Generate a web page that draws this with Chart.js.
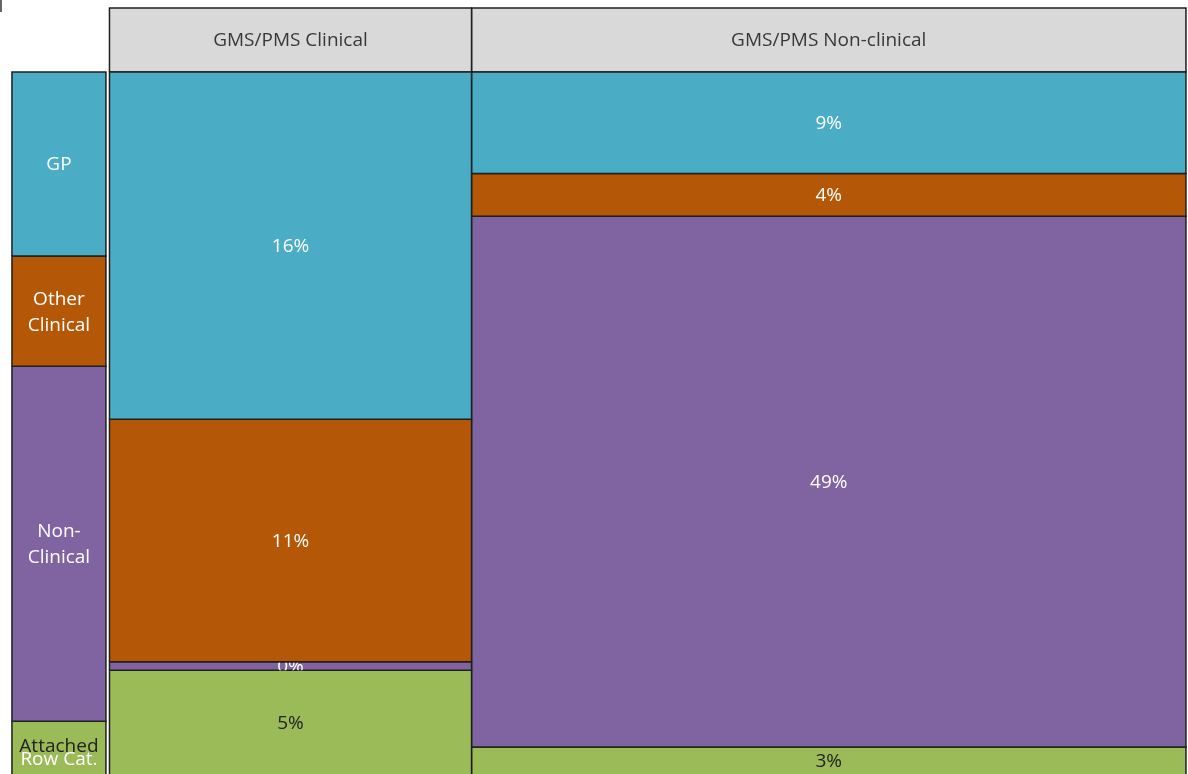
<!DOCTYPE html>
<html>
<head>
<meta charset="utf-8">
<title>Staff mosaic</title>
<script src="https://cdn.jsdelivr.net/npm/chart.js@4.4.1/dist/chart.umd.min.js"></script>
<style>
  html, body { margin: 0; padding: 0; background: #fff; overflow: hidden; }
  #wrap { position: relative; width: 1188px; height: 774px; }
  #mark { position: absolute; left: 0; top: 0; width: 2px; height: 12px; background: #666; }
</style>
</head>
<body>
<div id="wrap">
  <canvas id="mosaic" width="1188" height="774"></canvas>
  <div id="mark"></div>
</div>
<script>
// Column / row categories of the mosaic
const columns = ["GMS/PMS Clinical", "GMS/PMS Non-clinical"];
const rows = ["GP", "Other Clinical", "Non-Clinical", "Attached Row Cat."];
const rowLabelLines = [["GP"], ["Other", "Clinical"], ["Non-", "Clinical"], ["Attached", "Row Cat."]];

// Share of all staff (%) in each cell, one array per column, in row order
const clinicalShares = [16.4, 11.45, 0.4, 5.35];
const nonClinicalShares = [9.45, 4.0, 49.45, 3.4];

// Styles
const rowColors = ["#4BACC6", "#B45706", "#8064A2", "#9BBB59"];
const cellTextColors = ["#ffffff", "#ffffff", "#ffffff", "#222222"];
const legendTextColors = [["#fff"], ["#fff", "#fff"], ["#fff", "#fff"], ["#222", "#fff"]];
const legendLineGap = [26, 26, 26, 13];
const edgeColor = "#1f1f1f";
const headerFill = "#D9D9D9";
const FONT = '19px "Open Sans", "Noto Sans", sans-serif';

// layout in axis units (x: % of total width, y: % of column height)
const X_MIN = -10.17, X_MAX = 100.19;
const Y_MIN = 1.34, Y_MAX = 110.12;
const HEADER_TOP = 109.0;
const LEGEND_LEFT = -9.06, LEGEND_RIGHT = -0.33;

const columnShares = [clinicalShares, nonClinicalShares];
const sum = (a) => a.reduce((s, v) => s + v, 0);
const grandTotal = sum(columnShares.map(sum));

function rect(x0, x1, y0, y1) {
  return [
    { x: x0, y: y0 }, { x: x0, y: y1 }, { x: x1, y: y1 },
    { x: x1, y: y0 }, { x: x0, y: y0 },
  ];
}

function box(data, color, meta) {
  return {
    data,
    showLine: true,
    fill: "shape",
    backgroundColor: color,
    borderColor: edgeColor,
    borderWidth: 1.5,
    pointRadius: 0,
    tension: 0,
    meta,
  };
}

// Build the cells column by column (stacked top to bottom)
const datasets = [];
let xLeft = 0;
columnShares.forEach((shares, c) => {
  const colTotal = sum(shares);
  const xRight = xLeft + (colTotal / grandTotal) * 100;
  let yTop = 100;
  shares.forEach((v, r) => {
    const yBottom = yTop - (v / colTotal) * 100;
    datasets.push(box(rect(xLeft, xRight, yBottom, yTop), rowColors[r], {
      kind: "cell", lines: [Math.round(v) + "%"], colors: [cellTextColors[r]], gap: 0,
    }));
    yTop = yBottom;
  });
  datasets.push(box(rect(xLeft, xRight, 100, HEADER_TOP), headerFill, {
    kind: "header", lines: [columns[c]], colors: ["#383838"], gap: 0,
  }));
  xLeft = xRight;
});

// Row legend on the left: heights are the row totals across columns
const rowTotals = rows.map((_, r) => sum(columnShares.map((s) => s[r])));
let legendTop = 100;
rowTotals.forEach((t, r) => {
  const legendBottom = legendTop - (t / grandTotal) * 100;
  datasets.push(box(rect(LEGEND_LEFT, LEGEND_RIGHT, legendBottom, legendTop), rowColors[r], {
    kind: "legend", lines: rowLabelLines[r], colors: legendTextColors[r], gap: legendLineGap[r],
  }));
  legendTop = legendBottom;
});

// Text inside each box, clipped to the box
const boxText = {
  id: "boxText",
  afterDatasetsDraw(chart) {
    const { ctx, chartArea } = chart;
    const xs = chart.scales.x, ys = chart.scales.y;
    chart.data.datasets.forEach((ds) => {
      const m = ds.meta;
      const px0 = xs.getPixelForValue(ds.data[0].x);
      const px1 = xs.getPixelForValue(ds.data[2].x);
      const pyB = ys.getPixelForValue(ds.data[0].y);
      const pyT = ys.getPixelForValue(ds.data[1].y);
      const visB = Math.min(pyB, chartArea.bottom);
      const cy = m.kind === "legend" ? (pyT + pyB) / 2 + 1 : (pyT + visB) / 2 + 1;
      const cx = (px0 + px1) / 2;
      ctx.save();
      ctx.beginPath();
      ctx.rect(px0 + 1, pyT + 1, px1 - px0 - 2, visB - pyT - 1);
      ctx.clip();
      ctx.font = FONT;
      ctx.textAlign = "center";
      ctx.textBaseline = "middle";
      const n = m.lines.length;
      m.lines.forEach((line, i) => {
        ctx.fillStyle = m.colors[i];
        ctx.fillText(line, cx, cy + (i - (n - 1) / 2) * m.gap);
      });
      ctx.restore();
    });
  },
};

new Chart(document.getElementById("mosaic"), {
  type: "scatter",
  data: { datasets },
  options: {
    responsive: false,
    animation: false,
    events: [],
    layout: { padding: 0 },
    plugins: { legend: { display: false }, tooltip: { enabled: false } },
    scales: {
      x: { type: "linear", min: X_MIN, max: X_MAX, display: false },
      y: { type: "linear", min: Y_MIN, max: Y_MAX, display: false },
    },
  },
  plugins: [boxText],
});
</script>
</body>
</html>
